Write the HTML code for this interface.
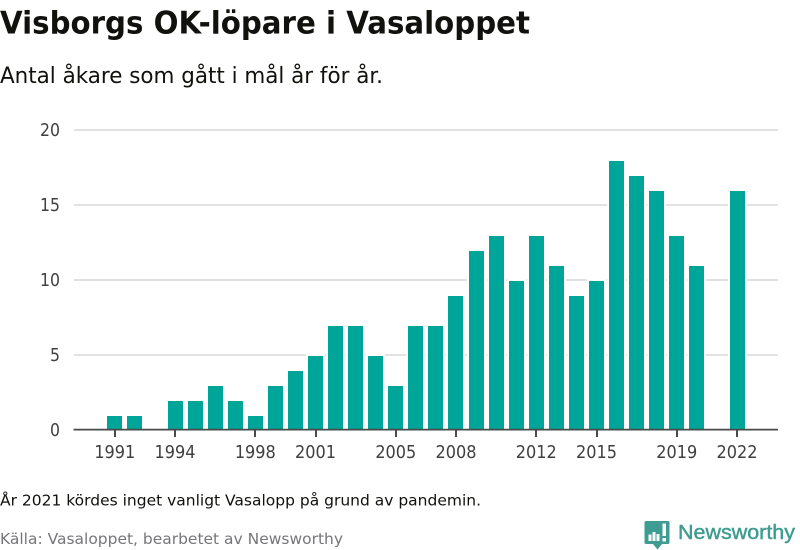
<!DOCTYPE html>
<html lang="sv">
<head>
<meta charset="utf-8">
<title>Visborgs OK-löpare i Vasaloppet</title>
<style>
html,body{margin:0;padding:0;background:#fff;width:800px;height:550px;overflow:hidden}
svg{display:block}
text{font-family:"DejaVu Sans","Liberation Sans",sans-serif}
</style>
</head>
<body>
<svg id="chart" width="800" height="550" viewBox="0 0 800 550" xmlns="http://www.w3.org/2000/svg">
  <text x="0" y="33.5" font-size="31.500" font-weight="700" fill="#11120d" textLength="530" lengthAdjust="spacingAndGlyphs">Visborgs OK-löpare i Vasaloppet</text>
  <text x="0" y="83" font-size="22" fill="#11120d" textLength="383" lengthAdjust="spacingAndGlyphs">Antal åkare som gått i mål år för år.</text>
  <g id="grid"></g>
  <g id="bars"></g>
  <g id="yaxis"></g>
  <g id="xaxis"></g>
  <text x="0" y="505.500" font-size="15.500" fill="#11120d" textLength="481" lengthAdjust="spacingAndGlyphs">År 2021 kördes inget vanligt Vasalopp på grund av pandemin.</text>
  <text x="0" y="544" font-size="15.500" fill="#76767a" textLength="343" lengthAdjust="spacingAndGlyphs">Källa: Vasaloppet, bearbetet av Newsworthy</text>
  <g>
    <path d="M646 521h22a1.500 1.500 0 0 1 1.500 1.500v20a1.500 1.500 0 0 1-1.500 1.500h-6l-4.500 5.500-4.500-5.500h-7a1.500 1.500 0 0 1-1.500-1.500v-20a1.500 1.500 0 0 1 1.500-1.500z" fill="#3f9c92"/>
    <path d="M648.500 534.500h3v6.500h-3zM652.500 532h3v9h-3zM656.500 534h3v7h-3zM662.500 523.500h3.500v12.500h-3.500zM662.500 538h3.500v3.500h-3.500z" fill="#fff"/>
    <text x="678" y="539" font-size="20.500" font-weight="400" fill="#3f9c92" stroke="#3f9c92" stroke-width="0.450" textLength="117" lengthAdjust="spacingAndGlyphs" style='font-family:"Liberation Sans",sans-serif'>Newsworthy</text>
  </g>
</svg>
<script>
const years = [1991,1992,1993,1994,1995,1996,1997,1998,1999,2000,2001,2002,2003,2004,2005,2006,2007,2008,2009,2010,2011,2012,2013,2014,2015,2016,2017,2018,2019,2020,2021,2022];
const finishers = [1,1,0,2,2,3,2,1,3,4,5,7,7,5,3,7,7,9,12,13,10,13,11,9,10,18,17,16,13,11,null,16];
const yTicks = [0,5,10,15,20];
const xTicks = [1991,1994,1998,2001,2005,2008,2012,2015,2019,2022];

const NS = 'http://www.w3.org/2000/svg';
function x(year){
  const days = (Date.UTC(year, 0, 1) - Date.UTC(1991, 0, 1)) / 86400000;
  return 114.82 + (days / 365.25) * 20.07;
}
function y(v){ return 430 - v * 15; }
function make(tag, attrs, parent){
  const el = document.createElementNS(NS, tag);
  for (const k in attrs) el.setAttribute(k, attrs[k]);
  parent.appendChild(el);
  return el;
}
const gGrid = document.getElementById('grid');
const gBars = document.getElementById('bars');
const gY = document.getElementById('yaxis');
const gX = document.getElementById('xaxis');

yTicks.forEach(function(t){
  if (t !== 0) {
    const line = make('line', {x1:74, x2:778, y1:y(t), y2:y(t), stroke:'#e2e2e2', 'stroke-width':2}, gGrid);
    
    
  }
  const attrs = {x:60, y:y(t)+6, 'font-size':17.5, fill:'#404040', 'text-anchor':'end', lengthAdjust:'spacingAndGlyphs'};
  attrs.textLength = String(t).length * 10;
  const label = make('text', attrs, gY);
  label.textContent = t;
  
  
});

years.forEach(function(yr, i){
  const v = finishers[i];
  if (!v) return;
  const left = Math.round(x(yr) - 7.5);
  const halo = make('rect', {x:left-2, width:19, y:y(v)-1, height:430-y(v)+1, fill:'#fff'}, gBars);
  
  
  const bar = make('rect', {x:left, width:15, y:y(v)+1, height:430-y(v)-1, fill:'#00a59a'}, gBars);
  
  
});

const axis = make('line', {x1:73.5, x2:778, y1:429.6, y2:429.6, stroke:'#4a4a4a', 'stroke-width':1.8}, gX);



xTicks.forEach(function(t){
  const tx = Math.round(x(t));
  const tick = make('line', {x1:tx, x2:tx, y1:430, y2:437, stroke:'#4a4a4a', 'stroke-width':2}, gX);
  
  
  const label = make('text', {x:x(t), y:458, 'font-size':17.5, fill:'#404040', 'text-anchor':'middle', textLength:41, lengthAdjust:'spacingAndGlyphs'}, gX);
  label.textContent = t;
  
  
});
</script>
</body>
</html>
